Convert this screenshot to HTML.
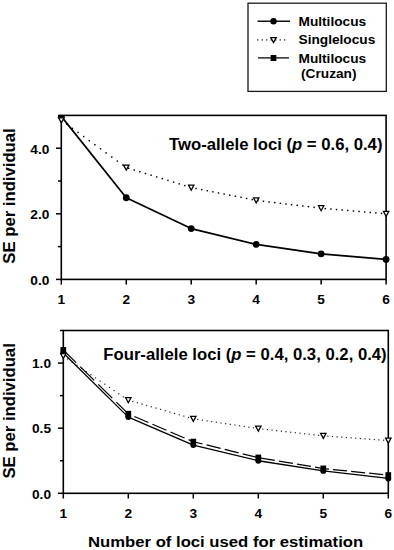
<!DOCTYPE html>
<html><head><meta charset="utf-8"><style>
html,body{margin:0;padding:0;background:#fff;}
body{width:394px;height:550px;overflow:hidden;}
svg{display:block;}
</style></head><body>
<svg width="394" height="550" viewBox="0 0 394 550">
<rect width="394" height="550" fill="#fff"/>
<rect x="248" y="3.2" width="138.3" height="88.2" fill="none" stroke="#1a1a1a" stroke-width="1.3"/>
<line x1="257.6" y1="21.2" x2="290" y2="21.2" stroke="#111" stroke-width="1.35"/>
<circle cx="273.50" cy="21.20" r="3.2" fill="#000"/>
<rect x="257.05" y="39.25" width="1.3" height="1.3" fill="#222"/><rect x="261.55" y="39.25" width="1.3" height="1.3" fill="#222"/><rect x="266.05" y="39.25" width="1.3" height="1.3" fill="#222"/><rect x="270.55" y="39.25" width="1.3" height="1.3" fill="#222"/><rect x="275.05" y="39.25" width="1.3" height="1.3" fill="#222"/><rect x="279.55" y="39.25" width="1.3" height="1.3" fill="#222"/><rect x="284.05" y="39.25" width="1.3" height="1.3" fill="#222"/>
<path d="M270.77,37.58L276.23,37.58L273.50,42.62Z" fill="#fff" stroke="#000" stroke-width="1.25" stroke-linejoin="miter"/>
<line x1="258" y1="57.9" x2="289" y2="57.9" stroke="#111" stroke-width="1.35"/>
<rect x="270.65" y="55.00" width="5.7" height="6.0" fill="#000"/>
<g font-family='"Liberation Sans", sans-serif' font-weight="bold" font-size="13.7px" fill="#000">
<text x="298.5" y="26">Multilocus</text>
<text x="298.5" y="43.8">Singlelocus</text>
<text x="298.5" y="62.6">Multilocus</text>
<text x="301" y="78.3">(Cruzan)</text>
</g>
<defs><clipPath id="c1"><rect x="41.3" y="115.4" width="364.8" height="183.99999999999997"/></clipPath></defs>
<rect x="61.3" y="115.4" width="324.8" height="163.99999999999997" fill="none" stroke="#000" stroke-width="1.6"/>
<line x1="56.0" y1="279.40" x2="61.3" y2="279.40" stroke="#000" stroke-width="1.5"/>
<line x1="56.0" y1="213.80" x2="61.3" y2="213.80" stroke="#000" stroke-width="1.5"/>
<line x1="56.0" y1="148.20" x2="61.3" y2="148.20" stroke="#000" stroke-width="1.5"/>
<line x1="58.0" y1="246.60" x2="61.3" y2="246.60" stroke="#000" stroke-width="1.5"/>
<line x1="58.0" y1="181.00" x2="61.3" y2="181.00" stroke="#000" stroke-width="1.5"/>
<line x1="58.0" y1="115.40" x2="61.3" y2="115.40" stroke="#000" stroke-width="1.5"/>
<line x1="61.30" y1="279.4" x2="61.30" y2="284.59999999999997" stroke="#000" stroke-width="1.5"/>
<line x1="126.26" y1="279.4" x2="126.26" y2="284.59999999999997" stroke="#000" stroke-width="1.5"/>
<line x1="191.22" y1="279.4" x2="191.22" y2="284.59999999999997" stroke="#000" stroke-width="1.5"/>
<line x1="256.18" y1="279.4" x2="256.18" y2="284.59999999999997" stroke="#000" stroke-width="1.5"/>
<line x1="321.14" y1="279.4" x2="321.14" y2="284.59999999999997" stroke="#000" stroke-width="1.5"/>
<line x1="386.10" y1="279.4" x2="386.10" y2="284.59999999999997" stroke="#000" stroke-width="1.5"/>
<g font-family='"Liberation Sans", sans-serif' font-weight="bold" font-size="13.7px" fill="#000">
<text x="49.3" y="284.70" text-anchor="end">0.0</text>
<text x="49.3" y="219.10" text-anchor="end">2.0</text>
<text x="49.3" y="153.50" text-anchor="end">4.0</text>
<text x="61.30" y="303.6" text-anchor="middle">1</text>
<text x="126.26" y="303.6" text-anchor="middle">2</text>
<text x="191.22" y="303.6" text-anchor="middle">3</text>
<text x="256.18" y="303.6" text-anchor="middle">4</text>
<text x="321.14" y="303.6" text-anchor="middle">5</text>
<text x="386.10" y="303.6" text-anchor="middle">6</text>
</g>
<rect x="66.06" y="123.58" width="1.45" height="1.45" fill="#000"/><rect x="71.68" y="127.67" width="1.45" height="1.45" fill="#000"/><rect x="77.30" y="131.75" width="1.45" height="1.45" fill="#000"/><rect x="82.92" y="135.84" width="1.45" height="1.45" fill="#000"/><rect x="88.54" y="139.92" width="1.45" height="1.45" fill="#000"/><rect x="94.16" y="144.01" width="1.45" height="1.45" fill="#000"/><rect x="99.78" y="148.10" width="1.45" height="1.45" fill="#000"/><rect x="105.40" y="152.18" width="1.45" height="1.45" fill="#000"/><rect x="111.02" y="156.27" width="1.45" height="1.45" fill="#000"/><rect x="116.64" y="160.36" width="1.45" height="1.45" fill="#000"/><rect x="122.26" y="164.44" width="1.45" height="1.45" fill="#000"/><rect x="127.88" y="167.55" width="1.45" height="1.45" fill="#000"/><rect x="133.50" y="169.28" width="1.45" height="1.45" fill="#000"/><rect x="139.12" y="171.01" width="1.45" height="1.45" fill="#000"/><rect x="144.74" y="172.74" width="1.45" height="1.45" fill="#000"/><rect x="150.36" y="174.47" width="1.45" height="1.45" fill="#000"/><rect x="155.98" y="176.20" width="1.45" height="1.45" fill="#000"/><rect x="161.60" y="177.93" width="1.45" height="1.45" fill="#000"/><rect x="167.22" y="179.66" width="1.45" height="1.45" fill="#000"/><rect x="172.84" y="181.40" width="1.45" height="1.45" fill="#000"/><rect x="178.46" y="183.13" width="1.45" height="1.45" fill="#000"/><rect x="184.08" y="184.86" width="1.45" height="1.45" fill="#000"/><rect x="189.70" y="186.59" width="1.45" height="1.45" fill="#000"/><rect x="195.32" y="187.78" width="1.45" height="1.45" fill="#000"/><rect x="200.94" y="188.89" width="1.45" height="1.45" fill="#000"/><rect x="206.56" y="190.00" width="1.45" height="1.45" fill="#000"/><rect x="212.18" y="191.10" width="1.45" height="1.45" fill="#000"/><rect x="217.80" y="192.21" width="1.45" height="1.45" fill="#000"/><rect x="223.42" y="193.32" width="1.45" height="1.45" fill="#000"/><rect x="229.04" y="194.42" width="1.45" height="1.45" fill="#000"/><rect x="234.66" y="195.53" width="1.45" height="1.45" fill="#000"/><rect x="240.28" y="196.64" width="1.45" height="1.45" fill="#000"/><rect x="245.90" y="197.74" width="1.45" height="1.45" fill="#000"/><rect x="251.52" y="198.85" width="1.45" height="1.45" fill="#000"/><rect x="257.14" y="199.83" width="1.45" height="1.45" fill="#000"/><rect x="262.76" y="200.51" width="1.45" height="1.45" fill="#000"/><rect x="268.38" y="201.19" width="1.45" height="1.45" fill="#000"/><rect x="274.00" y="201.87" width="1.45" height="1.45" fill="#000"/><rect x="279.62" y="202.55" width="1.45" height="1.45" fill="#000"/><rect x="285.24" y="203.24" width="1.45" height="1.45" fill="#000"/><rect x="290.86" y="203.92" width="1.45" height="1.45" fill="#000"/><rect x="296.48" y="204.60" width="1.45" height="1.45" fill="#000"/><rect x="302.10" y="205.28" width="1.45" height="1.45" fill="#000"/><rect x="307.72" y="205.96" width="1.45" height="1.45" fill="#000"/><rect x="313.34" y="206.64" width="1.45" height="1.45" fill="#000"/><rect x="318.96" y="207.32" width="1.45" height="1.45" fill="#000"/><rect x="324.58" y="207.86" width="1.45" height="1.45" fill="#000"/><rect x="330.20" y="208.34" width="1.45" height="1.45" fill="#000"/><rect x="335.82" y="208.82" width="1.45" height="1.45" fill="#000"/><rect x="341.44" y="209.30" width="1.45" height="1.45" fill="#000"/><rect x="347.06" y="209.79" width="1.45" height="1.45" fill="#000"/><rect x="352.68" y="210.27" width="1.45" height="1.45" fill="#000"/><rect x="358.30" y="210.75" width="1.45" height="1.45" fill="#000"/><rect x="363.92" y="211.23" width="1.45" height="1.45" fill="#000"/><rect x="369.54" y="211.72" width="1.45" height="1.45" fill="#000"/><rect x="375.16" y="212.20" width="1.45" height="1.45" fill="#000"/><rect x="380.78" y="212.68" width="1.45" height="1.45" fill="#000"/>
<path d="M61.30,116.38L126.26,197.73L191.22,228.56L256.18,244.30L321.14,253.82L386.10,259.39" fill="none" stroke="#000" stroke-width="1.7" stroke-linejoin="round"/>
<g clip-path="url(#c1)">
<circle cx="61.30" cy="116.38" r="3.4" fill="#000"/>
<circle cx="126.26" cy="197.73" r="3.4" fill="#000"/>
<circle cx="191.22" cy="228.56" r="3.4" fill="#000"/>
<circle cx="256.18" cy="244.30" r="3.4" fill="#000"/>
<circle cx="321.14" cy="253.82" r="3.4" fill="#000"/>
<circle cx="386.10" cy="259.39" r="3.4" fill="#000"/>
<path d="M58.57,117.79L64.02,117.79L61.30,122.84Z" fill="#fff" stroke="#000" stroke-width="1.25" stroke-linejoin="miter"/>
<path d="M123.54,165.03L128.99,165.03L126.26,170.08Z" fill="#fff" stroke="#000" stroke-width="1.25" stroke-linejoin="miter"/>
<path d="M188.50,185.03L193.95,185.03L191.22,190.09Z" fill="#fff" stroke="#000" stroke-width="1.25" stroke-linejoin="miter"/>
<path d="M253.46,197.83L258.91,197.83L256.18,202.88Z" fill="#fff" stroke="#000" stroke-width="1.25" stroke-linejoin="miter"/>
<path d="M318.42,205.70L323.87,205.70L321.14,210.75Z" fill="#fff" stroke="#000" stroke-width="1.25" stroke-linejoin="miter"/>
<path d="M383.38,211.27L388.83,211.27L386.10,216.32Z" fill="#fff" stroke="#000" stroke-width="1.25" stroke-linejoin="miter"/>
</g>
<defs><clipPath id="c2"><rect x="43.3" y="330.5" width="365.0" height="182.8"/></clipPath></defs>
<rect x="63.3" y="330.5" width="325.0" height="162.8" fill="none" stroke="#000" stroke-width="1.6"/>
<line x1="58.0" y1="493.30" x2="63.3" y2="493.30" stroke="#000" stroke-width="1.5"/>
<line x1="58.0" y1="428.18" x2="63.3" y2="428.18" stroke="#000" stroke-width="1.5"/>
<line x1="58.0" y1="363.06" x2="63.3" y2="363.06" stroke="#000" stroke-width="1.5"/>
<line x1="60.0" y1="460.74" x2="63.3" y2="460.74" stroke="#000" stroke-width="1.5"/>
<line x1="60.0" y1="395.62" x2="63.3" y2="395.62" stroke="#000" stroke-width="1.5"/>
<line x1="60.0" y1="330.50" x2="63.3" y2="330.50" stroke="#000" stroke-width="1.5"/>
<line x1="63.30" y1="493.3" x2="63.30" y2="498.5" stroke="#000" stroke-width="1.5"/>
<line x1="128.30" y1="493.3" x2="128.30" y2="498.5" stroke="#000" stroke-width="1.5"/>
<line x1="193.30" y1="493.3" x2="193.30" y2="498.5" stroke="#000" stroke-width="1.5"/>
<line x1="258.30" y1="493.3" x2="258.30" y2="498.5" stroke="#000" stroke-width="1.5"/>
<line x1="323.30" y1="493.3" x2="323.30" y2="498.5" stroke="#000" stroke-width="1.5"/>
<line x1="388.30" y1="493.3" x2="388.30" y2="498.5" stroke="#000" stroke-width="1.5"/>
<g font-family='"Liberation Sans", sans-serif' font-weight="bold" font-size="13.7px" fill="#000">
<text x="51.0" y="498.60" text-anchor="end">0.0</text>
<text x="51.0" y="433.48" text-anchor="end">0.5</text>
<text x="51.0" y="368.36" text-anchor="end">1.0</text>
<text x="63.30" y="518.3" text-anchor="middle">1</text>
<text x="128.30" y="518.3" text-anchor="middle">2</text>
<text x="193.30" y="518.3" text-anchor="middle">3</text>
<text x="258.30" y="518.3" text-anchor="middle">4</text>
<text x="323.30" y="518.3" text-anchor="middle">5</text>
<text x="388.30" y="518.3" text-anchor="middle">6</text>
</g>
<rect x="67.07" y="358.40" width="1.2" height="1.2" fill="#222"/><rect x="71.72" y="361.55" width="1.2" height="1.2" fill="#222"/><rect x="76.36" y="364.71" width="1.2" height="1.2" fill="#222"/><rect x="81.01" y="367.86" width="1.2" height="1.2" fill="#222"/><rect x="85.65" y="371.02" width="1.2" height="1.2" fill="#222"/><rect x="90.30" y="374.17" width="1.2" height="1.2" fill="#222"/><rect x="94.95" y="377.33" width="1.2" height="1.2" fill="#222"/><rect x="99.59" y="380.49" width="1.2" height="1.2" fill="#222"/><rect x="104.24" y="383.64" width="1.2" height="1.2" fill="#222"/><rect x="108.88" y="386.80" width="1.2" height="1.2" fill="#222"/><rect x="113.53" y="389.95" width="1.2" height="1.2" fill="#222"/><rect x="118.18" y="393.11" width="1.2" height="1.2" fill="#222"/><rect x="122.82" y="396.27" width="1.2" height="1.2" fill="#222"/><rect x="127.47" y="399.42" width="1.2" height="1.2" fill="#222"/><rect x="132.11" y="400.84" width="1.2" height="1.2" fill="#222"/><rect x="136.76" y="402.17" width="1.2" height="1.2" fill="#222"/><rect x="141.41" y="403.51" width="1.2" height="1.2" fill="#222"/><rect x="146.05" y="404.84" width="1.2" height="1.2" fill="#222"/><rect x="150.70" y="406.17" width="1.2" height="1.2" fill="#222"/><rect x="155.34" y="407.50" width="1.2" height="1.2" fill="#222"/><rect x="159.99" y="408.83" width="1.2" height="1.2" fill="#222"/><rect x="164.64" y="410.16" width="1.2" height="1.2" fill="#222"/><rect x="169.28" y="411.49" width="1.2" height="1.2" fill="#222"/><rect x="173.93" y="412.82" width="1.2" height="1.2" fill="#222"/><rect x="178.57" y="414.16" width="1.2" height="1.2" fill="#222"/><rect x="183.22" y="415.49" width="1.2" height="1.2" fill="#222"/><rect x="187.87" y="416.82" width="1.2" height="1.2" fill="#222"/><rect x="192.51" y="418.15" width="1.2" height="1.2" fill="#222"/><rect x="197.16" y="418.87" width="1.2" height="1.2" fill="#222"/><rect x="201.80" y="419.57" width="1.2" height="1.2" fill="#222"/><rect x="206.45" y="420.27" width="1.2" height="1.2" fill="#222"/><rect x="211.10" y="420.97" width="1.2" height="1.2" fill="#222"/><rect x="215.74" y="421.67" width="1.2" height="1.2" fill="#222"/><rect x="220.39" y="422.36" width="1.2" height="1.2" fill="#222"/><rect x="225.03" y="423.06" width="1.2" height="1.2" fill="#222"/><rect x="229.68" y="423.76" width="1.2" height="1.2" fill="#222"/><rect x="234.33" y="424.46" width="1.2" height="1.2" fill="#222"/><rect x="238.97" y="425.16" width="1.2" height="1.2" fill="#222"/><rect x="243.62" y="425.85" width="1.2" height="1.2" fill="#222"/><rect x="248.26" y="426.55" width="1.2" height="1.2" fill="#222"/><rect x="252.91" y="427.25" width="1.2" height="1.2" fill="#222"/><rect x="257.56" y="427.95" width="1.2" height="1.2" fill="#222"/><rect x="262.20" y="428.48" width="1.2" height="1.2" fill="#222"/><rect x="266.85" y="429.00" width="1.2" height="1.2" fill="#222"/><rect x="271.49" y="429.52" width="1.2" height="1.2" fill="#222"/><rect x="276.14" y="430.04" width="1.2" height="1.2" fill="#222"/><rect x="280.79" y="430.56" width="1.2" height="1.2" fill="#222"/><rect x="285.43" y="431.08" width="1.2" height="1.2" fill="#222"/><rect x="290.08" y="431.60" width="1.2" height="1.2" fill="#222"/><rect x="294.72" y="432.13" width="1.2" height="1.2" fill="#222"/><rect x="299.37" y="432.65" width="1.2" height="1.2" fill="#222"/><rect x="304.02" y="433.17" width="1.2" height="1.2" fill="#222"/><rect x="308.66" y="433.69" width="1.2" height="1.2" fill="#222"/><rect x="313.31" y="434.21" width="1.2" height="1.2" fill="#222"/><rect x="317.95" y="434.73" width="1.2" height="1.2" fill="#222"/><rect x="322.60" y="435.25" width="1.2" height="1.2" fill="#222"/><rect x="327.25" y="435.59" width="1.2" height="1.2" fill="#222"/><rect x="331.89" y="435.93" width="1.2" height="1.2" fill="#222"/><rect x="336.54" y="436.26" width="1.2" height="1.2" fill="#222"/><rect x="341.18" y="436.60" width="1.2" height="1.2" fill="#222"/><rect x="345.83" y="436.93" width="1.2" height="1.2" fill="#222"/><rect x="350.48" y="437.27" width="1.2" height="1.2" fill="#222"/><rect x="355.12" y="437.60" width="1.2" height="1.2" fill="#222"/><rect x="359.77" y="437.94" width="1.2" height="1.2" fill="#222"/><rect x="364.41" y="438.27" width="1.2" height="1.2" fill="#222"/><rect x="369.06" y="438.61" width="1.2" height="1.2" fill="#222"/><rect x="373.71" y="438.94" width="1.2" height="1.2" fill="#222"/><rect x="378.35" y="439.28" width="1.2" height="1.2" fill="#222"/><rect x="383.00" y="439.61" width="1.2" height="1.2" fill="#222"/><rect x="387.64" y="439.95" width="1.2" height="1.2" fill="#222"/>
<path d="M63.30,350.04L76.14,362.64" fill="none" stroke="#000" stroke-width="1.25" stroke-linejoin="round"/><path d="M80.20,366.63L94.20,380.37" fill="none" stroke="#000" stroke-width="1.25" stroke-linejoin="round"/><path d="M98.26,384.36L112.26,398.11" fill="none" stroke="#000" stroke-width="1.25" stroke-linejoin="round"/><path d="M116.32,402.09L128.30,413.85L130.32,414.72" fill="none" stroke="#000" stroke-width="1.25" stroke-linejoin="round"/><path d="M134.38,416.46L148.38,422.46" fill="none" stroke="#000" stroke-width="1.25" stroke-linejoin="round"/><path d="M152.44,424.20L166.44,430.21" fill="none" stroke="#000" stroke-width="1.25" stroke-linejoin="round"/><path d="M170.50,431.95L184.50,437.95" fill="none" stroke="#000" stroke-width="1.25" stroke-linejoin="round"/><path d="M188.56,439.69L193.30,441.72L202.56,443.99" fill="none" stroke="#000" stroke-width="1.25" stroke-linejoin="round"/><path d="M206.62,444.98L220.62,448.40" fill="none" stroke="#000" stroke-width="1.25" stroke-linejoin="round"/><path d="M224.68,449.40L238.68,452.82" fill="none" stroke="#000" stroke-width="1.25" stroke-linejoin="round"/><path d="M242.74,453.81L256.74,457.23" fill="none" stroke="#000" stroke-width="1.25" stroke-linejoin="round"/><path d="M260.80,458.04L274.80,460.39" fill="none" stroke="#000" stroke-width="1.25" stroke-linejoin="round"/><path d="M278.86,461.07L292.86,463.43" fill="none" stroke="#000" stroke-width="1.25" stroke-linejoin="round"/><path d="M296.92,464.11L310.92,466.47" fill="none" stroke="#000" stroke-width="1.25" stroke-linejoin="round"/><path d="M314.98,467.15L323.30,468.55L328.98,469.13" fill="none" stroke="#000" stroke-width="1.25" stroke-linejoin="round"/><path d="M333.04,469.55L347.04,470.98" fill="none" stroke="#000" stroke-width="1.25" stroke-linejoin="round"/><path d="M351.10,471.40L365.10,472.83" fill="none" stroke="#000" stroke-width="1.25" stroke-linejoin="round"/><path d="M369.16,473.24L383.16,474.67" fill="none" stroke="#000" stroke-width="1.25" stroke-linejoin="round"/><path d="M387.22,475.09L388.30,475.20" fill="none" stroke="#000" stroke-width="1.25" stroke-linejoin="round"/>
<path d="M63.30,353.03L128.30,417.11L193.30,445.11L258.30,460.74L323.30,470.90L388.30,478.45" fill="none" stroke="#000" stroke-width="1.3" stroke-linejoin="round"/>
<g clip-path="url(#c2)">
<rect x="60.45" y="347.04" width="5.7" height="6.0" fill="#000"/>
<rect x="125.45" y="410.85" width="5.7" height="6.0" fill="#000"/>
<rect x="190.45" y="438.72" width="5.7" height="6.0" fill="#000"/>
<rect x="255.45" y="454.61" width="5.7" height="6.0" fill="#000"/>
<rect x="320.45" y="465.55" width="5.7" height="6.0" fill="#000"/>
<rect x="385.45" y="472.20" width="5.7" height="6.0" fill="#000"/>
<circle cx="63.30" cy="353.03" r="2.95" fill="#000"/>
<circle cx="128.30" cy="417.11" r="2.95" fill="#000"/>
<circle cx="193.30" cy="445.11" r="2.95" fill="#000"/>
<circle cx="258.30" cy="460.74" r="2.95" fill="#000"/>
<circle cx="323.30" cy="470.90" r="2.95" fill="#000"/>
<circle cx="388.30" cy="478.45" r="2.95" fill="#000"/>
<path d="M60.57,353.50L66.02,353.50L63.30,358.55Z" fill="#fff" stroke="#000" stroke-width="1.25" stroke-linejoin="miter"/>
<path d="M125.58,397.65L131.03,397.65L128.30,402.70Z" fill="#fff" stroke="#000" stroke-width="1.25" stroke-linejoin="miter"/>
<path d="M190.58,416.28L196.03,416.28L193.30,421.33Z" fill="#fff" stroke="#000" stroke-width="1.25" stroke-linejoin="miter"/>
<path d="M255.58,426.05L261.03,426.05L258.30,431.10Z" fill="#fff" stroke="#000" stroke-width="1.25" stroke-linejoin="miter"/>
<path d="M320.57,433.34L326.03,433.34L323.30,438.39Z" fill="#fff" stroke="#000" stroke-width="1.25" stroke-linejoin="miter"/>
<path d="M385.57,438.03L391.03,438.03L388.30,443.08Z" fill="#fff" stroke="#000" stroke-width="1.25" stroke-linejoin="miter"/>
</g>
<g font-family='"Liberation Sans", sans-serif' font-weight="bold" font-size="16.7px" fill="#000">
<text x="169" y="149.8">Two-allele loci (<tspan font-style="italic">p</tspan> = 0.6, 0.4)</text>
<text x="103.3" y="360.3">Four-allele loci (<tspan font-style="italic">p</tspan> = 0.4, 0.3, 0.2, 0.4)</text>
<text transform="translate(88.0,547.4) scale(1.09,1)" font-size="15.3px">Number of loci used for estimation</text>
<text transform="translate(14.6,263.7) rotate(-90)">SE per individual</text>
<text transform="translate(14.8,478.6) rotate(-90)">SE per individual</text>
</g>
</svg>
</body></html>
